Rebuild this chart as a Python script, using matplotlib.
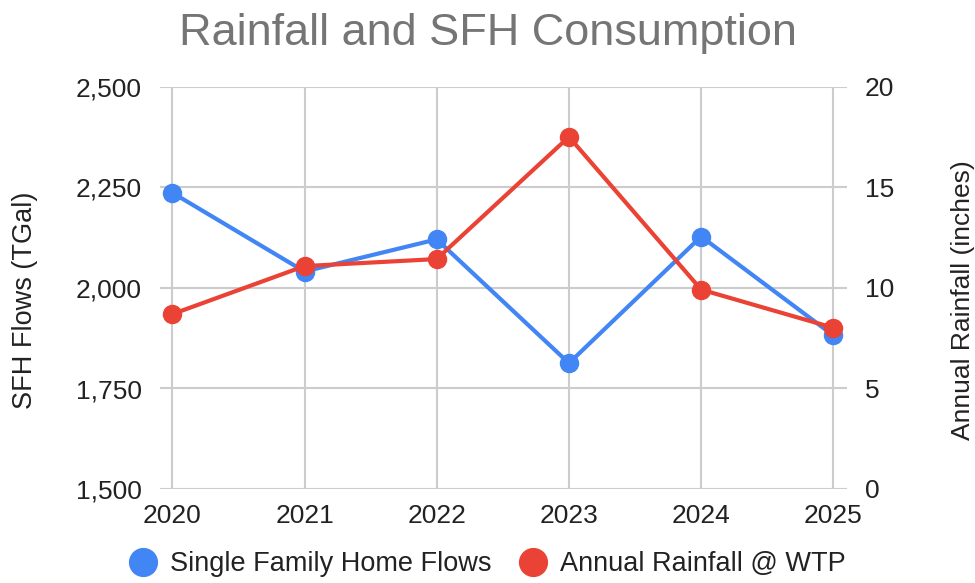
import numpy as np
import matplotlib.pyplot as plt
from matplotlib.ticker import FuncFormatter
from matplotlib.lines import Line2D

plt.rcParams['font.family'] = ['Liberation Sans', 'DejaVu Sans']

# data
years = ['2020', '2021', '2022', '2023', '2024', '2025']
sfh_flows = [2237, 2041, 2121, 1813, 2128, 1882]       # TGal
rainfall = [8.7, 11.09, 11.44, 17.52, 9.92, 8.02]      # inches

blue = '#4285F4'
red = '#EA4335'
grid_col = '#cccccc'
txt = '#222222'

fig = plt.figure(figsize=(9.75, 5.83), dpi=100)
ax = fig.add_axes([160 / 975, 94 / 583, 687 / 975, 402 / 583])
ax2 = ax.twinx()

x = np.arange(len(years))
ax.plot(x, sfh_flows, color=blue, lw=3, marker='o', ms=13, zorder=3, clip_on=False)
ax2.plot(x, rainfall, color=red, lw=3, marker='o', ms=13, zorder=3, clip_on=False)

ax.set_xlim(-0.093, 5.103)
ax.set_ylim(1500, 2500)
ax2.set_ylim(0, 20)
ax.set_yticks([1500, 1750, 2000, 2250, 2500])
ax2.set_yticks([0, 5, 10, 15, 20])
ax.yaxis.set_major_formatter(FuncFormatter(lambda v, p: f'{int(v):,}'))
ax.set_xticks(x)
ax.set_xticklabels(years)

ax.grid(True, color=grid_col, lw=1.5)
ax.set_axisbelow(True)
for a in (ax, ax2):
    for s in a.spines.values():
        s.set_visible(False)
    a.tick_params(length=0, labelsize=19, colors=txt)
ax.tick_params(axis='y', pad=13)
ax2.tick_params(axis='y', pad=13)
ax.tick_params(axis='x', pad=11)

ax.set_ylabel('SFH Flows (TGal)', fontsize=19.5, color=txt)
ax2.set_ylabel('Annual Rainfall (inches)', fontsize=19, color=txt)
# labels sit a little below the axis middle in the original
ax.yaxis.set_label_coords(-0.178, 0.47)
ax2.yaxis.set_label_coords(1.152, 0.47)

fig.text(0.5, 1 - 45 / 583, 'Rainfall and SFH Consumption', ha='center', va='baseline',
         fontsize=32.4, color='#757575')

handles = [Line2D([], [], ls='none', marker='o', ms=20, color=blue),
           Line2D([], [], ls='none', marker='o', ms=20, color=red)]
fig.legend(handles, ['Single Family Home Flows', 'Annual Rainfall @ WTP'],
           loc='center', bbox_to_anchor=(0.5, 1 - 564 / 583), ncol=2, frameon=False,
           fontsize=19.5, handletextpad=0.5, columnspacing=1.0, handlelength=1.0,
           labelcolor=txt)

fig.savefig('out.png', dpi=100)
